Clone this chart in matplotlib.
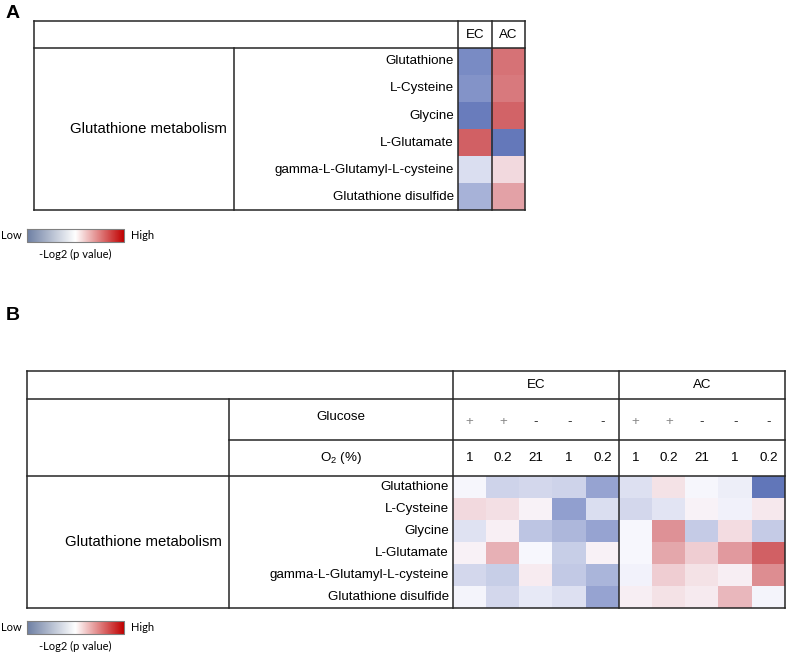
import numpy as np
import matplotlib.pyplot as plt
from matplotlib.colors import LinearSegmentedColormap

plt.rcParams['font.family'] = ['Liberation Sans', 'DejaVu Sans']
plt.rcParams['mathtext.fontset'] = 'custom'
plt.rcParams['mathtext.rm'] = 'Liberation Sans'
plt.rcParams['mathtext.it'] = 'Liberation Sans'

pathway = 'Glutathione metabolism'
metabolites = ['Glutathione', 'L-Cysteine', 'Glycine', 'L-Glutamate',
               'gamma-L-Glutamyl-L-cysteine', 'Glutathione disulfide']
cell_types = ['EC', 'AC']
glucose = ['+', '+', '-', '-', '-']
o2_levels = ['1', '0.2', '21', '1', '0.2']

# panel A, columns EC, AC (scaled -Log2 p value, sign = direction)
score_a = np.array([
    [-0.80, 0.78],
    [-0.74, 0.74],
    [-0.90, 0.86],
    [0.88, -0.93],
    [-0.20, 0.18],
    [-0.52, 0.50],
])

# panel B, EC conditions then AC conditions
score_b_ec = np.array([
    [-0.03, -0.28, -0.25, -0.28, -0.62],
    [0.18, 0.15, 0.04, -0.65, -0.20],
    [-0.17, 0.06, -0.38, -0.48, -0.62],
    [0.05, 0.42, -0.02, -0.32, 0.05],
    [-0.25, -0.32, 0.08, -0.35, -0.50],
    [-0.04, -0.25, -0.12, -0.18, -0.62],
])
score_b_ac = np.array([
    [-0.18, 0.14, -0.03, -0.08, -0.95],
    [-0.25, -0.15, 0.04, -0.06, 0.10],
    [-0.02, 0.60, -0.33, 0.17, -0.33],
    [-0.02, 0.47, 0.25, 0.55, 0.88],
    [-0.05, 0.25, 0.14, 0.07, 0.62],
    [0.07, 0.14, 0.09, 0.38, -0.04],
])

cell_cmap = LinearSegmentedColormap.from_list(
    'cells', ['#5a70b6', '#fbfaff', '#cc4c50'])
legend_cmap = LinearSegmentedColormap.from_list(
    'legend', [(0, '#6e7fa3'), (0.5, '#ffffff'), (1, '#c00000')])

W, H = 787, 654
fig = plt.figure(figsize=(W / 100, H / 100), dpi=100)
ax = fig.add_axes([0, 0, 1, 1])
ax.set_xlim(0, W)
ax.set_ylim(H, 0)
ax.axis('off')

LC = '#262626'
LW = 1.1


def hline(y, x0, x1):
    ax.plot([x0, x1], [y, y], color=LC, lw=LW, solid_capstyle='projecting', zorder=3)


def vline(x, y0, y1):
    ax.plot([x, x], [y0, y1], color=LC, lw=LW, solid_capstyle='projecting', zorder=3)


def legend(y0):
    grad = np.linspace(0, 1, 256).reshape(1, -1)
    ax.imshow(grad, cmap=legend_cmap, extent=(27, 124, y0 + 13, y0), aspect='auto')
    ax.plot([27, 124, 124, 27, 27], [y0, y0, y0 + 13, y0 + 13, y0],
            color='#808080', lw=0.8)
    ax.text(1, y0 + 6.5, 'Low', fontsize=8, family=['Lato', 'DejaVu Sans'],
            ha='left', va='center')
    ax.text(131, y0 + 6.5, 'High', fontsize=8, family=['Lato', 'DejaVu Sans'],
            ha='left', va='center')
    ax.text(75, y0 + 25, '-Log2 (p value)', fontsize=8,
            family=['Lato', 'DejaVu Sans'], ha='center', va='center')


FS = 10.7
FS_M = 9.6

# ---------------- panel A ----------------
ax.text(6, 14, 'A', fontsize=14, fontweight='bold', ha='left', va='center')
ax0, ax1, ay0, ay1 = 34, 525, 21, 210
ahead = 48
acat = 234
acol = [458, 491.5, 525]
ax.imshow(score_a, cmap=cell_cmap, vmin=-1, vmax=1, interpolation='nearest',
          extent=(acol[0], acol[2], ay1, ahead), aspect='auto', zorder=1)
hline(ay0, ax0, ax1)
hline(ay1, ax0, ax1)
hline(ahead, ax0, ax1)
vline(ax0, ay0, ay1)
vline(ax1, ay0, ay1)
vline(acat, ahead, ay1)
for x in acol[:2]:
    vline(x, ay0, ay1)
for i, ct in enumerate(cell_types):
    ax.text((acol[i] + acol[i + 1]) / 2, (ay0 + ahead) / 2 + 1, ct,
            fontsize=FS_M, ha='center', va='center')
rh = (ay1 - ahead) / len(metabolites)
for i, m in enumerate(metabolites):
    ax.text(acol[0] - 4, ahead + rh * (i + 0.5), m, fontsize=FS_M,
            ha='right', va='center')
ax.text(acat - 7, (ahead + ay1) / 2, pathway, fontsize=FS, ha='right', va='center')
legend(229)

# ---------------- panel B ----------------
ax.text(6, 316, 'B', fontsize=14, fontweight='bold', ha='left', va='center')
bx0, bx1, by0, by1 = 27, 785, 371, 608
r1, r2, r3 = 399, 440, 476
bcat = 229
bmid = 619
bl = 453
ax.imshow(np.hstack([score_b_ec, score_b_ac]), cmap=cell_cmap, vmin=-1, vmax=1,
          interpolation='nearest', extent=(bl, bx1, by1, r3), aspect='auto', zorder=1)
hline(by0, bx0, bx1)
hline(by1, bx0, bx1)
hline(r1, bx0, bx1)
hline(r2, bcat, bx1)
hline(r3, bx0, bx1)
vline(bx0, by0, by1)
vline(bx1, by0, by1)
vline(bcat, r1, by1)
vline(bl, by0, by1)
vline(bmid, by0, by1)

ax.text((bl + bmid) / 2, (by0 + r1) / 2, 'EC', fontsize=FS_M, ha='center', va='center')
ax.text((bmid + bx1) / 2, (by0 + r1) / 2, 'AC', fontsize=FS_M, ha='center', va='center')
ax.text((bcat + bl) / 2, 417, 'Glucose', fontsize=FS_M, ha='center', va='center')
ax.text((bcat + bl) / 2, 458, r'O$_2$ (%)', fontsize=FS_M, ha='center', va='center')

cw = (bmid - bl) / len(glucose)
for g, start in enumerate([bl, bmid]):
    for j in range(len(glucose)):
        cx = start + cw * (j + 0.5)
        ax.text(cx, 422, glucose[j], fontsize=FS_M,
                color='#888888' if glucose[j] == '+' else '#222222',
                ha='center', va='center')
        ax.text(cx, 458, o2_levels[j], fontsize=FS_M, ha='center', va='center')

rh = (by1 - r3) / len(metabolites)
for i, m in enumerate(metabolites):
    ax.text(bl - 4, r3 + rh * (i + 0.5), m, fontsize=FS_M, ha='right', va='center')
ax.text(bcat - 7, (r3 + by1) / 2, pathway, fontsize=FS, ha='right', va='center')
legend(621)

fig.savefig('out.png', dpi=100)
